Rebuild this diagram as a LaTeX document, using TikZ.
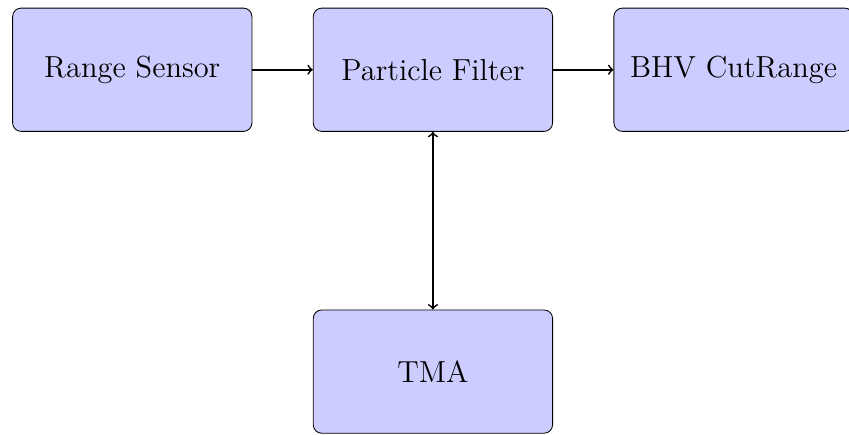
\documentclass[tikz,border=0pt]{standalone}
\usepackage{tikz}

\begin{document}
\begin{tikzpicture}[
  block/.style={rectangle, draw, rounded corners, fill=blue!20, minimum width=3.98cm, minimum height=2.05cm, font=\Large, align=center}
]
\useasboundingbox (-2.2,-6.06) rectangle (11.92,1.16);

% Top row
\node[block] (rs) at (0,0) {Range Sensor};
\node[block] (pf) at (5,0) {Particle Filter};
\node[block] (bhv) at (10,0) {BHV CutRange};

% Below the filter
\node[block] (tma) at (5,-5.02) {TMA};

% Edges
\draw[->, thick] (rs) -- (pf);
\draw[->, thick] (pf) -- (bhv);
\draw[<->, thick] (pf) -- (tma);

\end{tikzpicture}
\end{document}
